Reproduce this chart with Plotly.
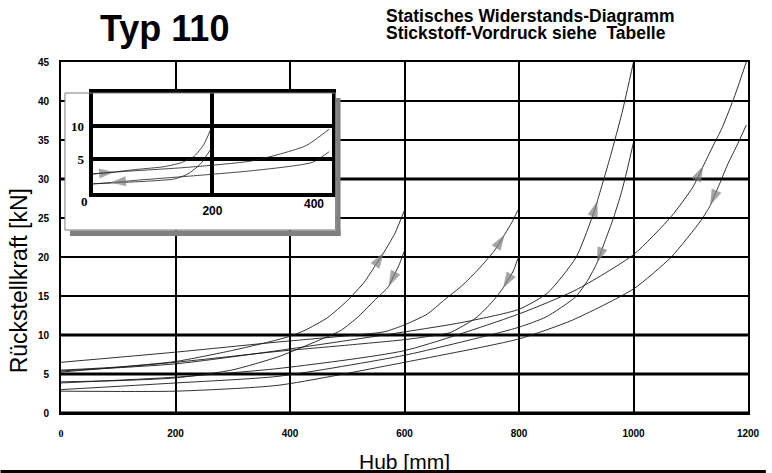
import plotly.graph_objects as go

# ---------------- data ----------------
# main diagram: Hub [mm] vs Rückstellkraft [kN]; "up" = compression, "down" = return stroke
hub_600_up = [0, 100, 200, 298, 379, 402, 426, 465, 500, 530, 548, 564, 583, 600]
kraft_600_up = [5.5, 5.9, 6.6, 8.0, 9.4, 9.9, 10.6, 12.2, 14.4, 16.8, 18.8, 20.6, 23.0, 26.0]
hub_600_down = [600, 590, 580, 572, 547, 520, 489, 440, 379, 298, 200, 100, 0]
kraft_600_down = [20.8, 18.9, 17.4, 16.2, 14.4, 12.4, 10.6, 9.0, 7.2, 5.5, 4.5, 4.15, 4.0]

hub_800_up = [0, 200, 379, 500, 564, 600, 640, 668, 700, 730, 758, 775, 788, 798]
kraft_800_up = [6.5, 7.8, 9.1, 9.9, 10.4, 11.3, 12.7, 14.4, 16.3, 18.5, 20.9, 22.9, 24.5, 26.0]
hub_800_down = [798, 790, 780, 772, 755, 725, 679, 640, 600, 500, 379, 200, 0]
kraft_800_down = [19.8, 18.2, 17.0, 16.0, 14.4, 12.2, 10.3, 9.8, 9.4, 8.7, 7.9, 6.5, 5.25]

hub_1000_up = [0, 200, 379, 600, 700, 800, 850, 900, 932, 937, 960, 980, 1000]
kraft_1000_up = [5.4, 6.3, 8.0, 10.4, 11.6, 13.3, 15.4, 20.0, 26.0, 27.2, 33.0, 38.5, 45.0]
hub_1000_down = [1000, 988, 979, 965, 950, 943, 936, 920, 899, 847, 800, 760, 600, 379, 200, 0]
kraft_1000_down = [34.7, 30.9, 28.3, 25.0, 22.0, 20.6, 19.2, 17.0, 14.9, 12.3, 11.0, 10.2, 7.4, 4.7, 3.85, 3.0]

hub_1200_up = [0, 200, 379, 600, 800, 900, 1000, 1066, 1104, 1122, 1138, 1155, 1177, 1197]
kraft_1200_up = [3.85, 4.6, 5.7, 8.0, 12.7, 15.8, 20.3, 25.2, 29.0, 31.7, 34.1, 36.6, 40.7, 45.0]
hub_1200_down = [1197, 1180, 1164, 1150, 1142, 1134, 1118, 1066, 1000, 893, 800, 600, 379, 200, 0]
kraft_1200_down = [36.9, 34.2, 31.8, 29.3, 28.0, 26.6, 24.7, 20.0, 15.9, 11.9, 9.5, 6.5, 3.55, 2.8, 2.8]

# index of the point that carries the direction arrow on each curve
arrow_index = {
    "600_up": 11, "600_down": 3, "800_up": 11, "800_down": 3,
    "1000_up": 9, "1000_down": 6, "1200_up": 9, "1200_down": 5,
}

# inset diagram (short strokes)
hub_200_up = [0, 20, 36, 76, 120, 148, 170, 186, 197]
kraft_200_up = [2.8, 2.95, 3.1, 3.5, 3.9, 4.5, 5.5, 7.3, 9.5]
hub_200_down = [197, 180, 159, 137, 90, 0]
kraft_200_down = [6.5, 4.3, 2.8, 2.05, 1.7, 1.3]
hub_400_up = [0, 49, 159, 268, 356, 395]
kraft_400_up = [2.8, 3.15, 3.8, 4.8, 7.05, 9.55]
hub_400_down = [395, 367, 268, 159, 80, 30, 0]
kraft_400_down = [6.15, 4.55, 3.3, 2.45, 1.9, 1.5, 1.3]
inset_arrow_index = {"200_up": 2, "400_down": 5}

x_ticks = [0, 200, 400, 600, 800, 1000, 1200]
y_ticks = [0, 5, 10, 15, 20, 25, 30, 35, 40, 45]
inset_x_ticks = [0, 200, 400]
inset_y_ticks = [0, 5, 10, 15]

# ---------------- geometry helpers ----------------
W, H = 772, 473
ML, MR, MT, MB = 61, 18, 62, 60
PW = W - ML - MR
PH = H - MT - MB


def px2x(px):
    return (px - ML) / PW


def py2y(py):
    return (H - MB - py) / PH


LINE_COL = "#1a1a1a"
ARROW_COL = "#808080"
SANS = "Liberation Sans, Arial, sans-serif"
SERIF = "Liberation Serif, Times New Roman, serif"

fig = go.Figure()

main_curves = [
    ("600_up", hub_600_up, kraft_600_up),
    ("600_down", hub_600_down, kraft_600_down),
    ("800_up", hub_800_up, kraft_800_up),
    ("800_down", hub_800_down, kraft_800_down),
    ("1000_up", hub_1000_up, kraft_1000_up),
    ("1000_down", hub_1000_down, kraft_1000_down),
    ("1200_up", hub_1200_up, kraft_1200_up),
    ("1200_down", hub_1200_down, kraft_1200_down),
]
for key, xs, ys in main_curves:
    sizes = [0] * len(xs)
    sizes[arrow_index[key]] = 17
    fig.add_trace(go.Scatter(
        x=xs, y=ys, mode="lines+markers", xaxis="x", yaxis="y",
        line=dict(color=LINE_COL, width=0.9, shape="spline", smoothing=0.6),
        marker=dict(symbol="arrow", size=sizes, color=ARROW_COL,
                    angleref="previous", line=dict(width=0)),
        hoverinfo="skip", showlegend=False,
    ))

# white cover subplot (the inset's card)
fig.add_trace(go.Scatter(x=[], y=[], xaxis="x2", yaxis="y2", mode="lines",
                         showlegend=False, hoverinfo="skip"))

inset_curves = [
    ("200_up", hub_200_up, kraft_200_up),
    ("200_down", hub_200_down, kraft_200_down),
    ("400_up", hub_400_up, kraft_400_up),
    ("400_down", hub_400_down, kraft_400_down),
]
for key, xs, ys in inset_curves:
    sizes = [0] * len(xs)
    if key in inset_arrow_index:
        sizes[inset_arrow_index[key]] = 16
    fig.add_trace(go.Scatter(
        x=xs, y=ys, mode="lines+markers", xaxis="x3", yaxis="y3",
        line=dict(color=LINE_COL, width=0.8, shape="spline", smoothing=0.6),
        marker=dict(symbol="arrow", size=sizes, color=ARROW_COL,
                    angleref="previous", line=dict(width=0)),
        hoverinfo="skip", showlegend=False,
    ))

tick_font = dict(family=SANS, size=10, color="black", weight="bold")
x_ticktext = ["<span style='font-family:Liberation Serif'>0</span>"] + [str(v) for v in x_ticks[1:]]

fig.update_layout(
    width=W, height=H,
    margin=dict(l=ML, r=MR, t=MT, b=MB),
    paper_bgcolor="white", plot_bgcolor="white",
    showlegend=False,
    xaxis=dict(domain=[0, 1], range=[0, 1200], tickvals=x_ticks, ticktext=x_ticktext,
               showgrid=True, gridcolor="black", gridwidth=2.4,
               showline=True, linecolor="black", linewidth=2, mirror=True,
               zeroline=False, ticks="", tickfont=tick_font, ticklabelstandoff=10,
               fixedrange=True),
    yaxis=dict(domain=[0, 1], range=[0, 45], tickvals=y_ticks,
               showgrid=True, gridcolor="black", gridwidth=2,
               showline=True, linecolor="black", linewidth=2, mirror=True,
               zeroline=False, ticks="", tickfont=tick_font, ticklabelstandoff=8,
               fixedrange=True),
    xaxis2=dict(domain=[px2x(65), px2x(338)], anchor="y2", range=[0, 1],
                showgrid=False, showline=False, zeroline=False, showticklabels=False,
                fixedrange=True),
    yaxis2=dict(domain=[py2y(230), py2y(93)], anchor="x2", range=[0, 1],
                showgrid=False, showline=False, zeroline=False, showticklabels=False,
                fixedrange=True),
    xaxis3=dict(domain=[px2x(93), px2x(334.5)], anchor="y3", range=[0, 400],
                tickvals=inset_x_ticks, ticktext=["", "200", ""],
                showgrid=True, gridcolor="black", gridwidth=4,
                showline=True, linecolor="black", linewidth=4, mirror=True,
                zeroline=False, ticks="", ticklabelstandoff=4,
                tickfont=dict(family=SANS, size=12, color="black", weight="bold"),
                fixedrange=True),
    yaxis3=dict(domain=[py2y(192.5), py2y(93)], anchor="x3", range=[0, 15],
                tickvals=inset_y_ticks, ticktext=["", "5", "10", ""],
                showgrid=True, gridcolor="black", gridwidth=4,
                showline=True, linecolor="black", linewidth=4, mirror=True,
                zeroline=False, ticks="", ticklabelstandoff=2,
                tickfont=dict(family=SERIF, size=13, color="black", weight="bold"),
                fixedrange=True),
)

# heavier grid lines of the main diagram
for yv in [0, 5, 10, 30]:
    fig.add_shape(type="line", xref="x", yref="y", x0=0, x1=1200, y0=yv, y1=yv,
                  line=dict(color="black", width=3.2), layer="below")

# inset card border and shadow
fig.add_shape(type="rect", xref="paper", yref="paper",
              x0=px2x(65), x1=px2x(338), y0=py2y(230), y1=py2y(93),
              line=dict(color="#7f7f7f", width=1), fillcolor="rgba(0,0,0,0)", layer="above")
fig.add_shape(type="rect", xref="paper", yref="paper",
              x0=px2x(338.5), x1=px2x(343), y0=py2y(236), y1=py2y(98),
              line=dict(width=0), fillcolor="#808080", layer="above")
fig.add_shape(type="rect", xref="paper", yref="paper",
              x0=px2x(70), x1=px2x(343), y0=py2y(236), y1=py2y(230.5),
              line=dict(width=0), fillcolor="#808080", layer="above")
# bottom rule
fig.add_shape(type="line", xref="paper", yref="paper",
              x0=px2x(0), x1=px2x(772), y0=py2y(471.5), y1=py2y(471.5),
              line=dict(color="black", width=3), layer="above")

ann = [
    dict(text="Typ 110", x=px2x(165.5), y=py2y(28), xanchor="center", yanchor="middle",
         font=dict(family=SANS, size=36, color="black", weight="bold")),
    dict(text="Statisches Widerstands-Diagramm", x=px2x(387), y=py2y(15.5),
         xanchor="left", yanchor="middle",
         font=dict(family=SANS, size=17.5, color="black", weight="bold")),
    dict(text="Stickstoff-Vordruck siehe\u00a0 Tabelle", x=px2x(387), y=py2y(32.5),
         xanchor="left", yanchor="middle",
         font=dict(family=SANS, size=17.5, color="black", weight="bold")),
    dict(text="Rückstellkraft [kN]", x=px2x(19), y=py2y(281), textangle=-90,
         xanchor="center", yanchor="middle",
         font=dict(family=SANS, size=23, color="black")),
    dict(text="Hub [mm]", x=px2x(408), y=py2y(461), xanchor="center", yanchor="middle",
         font=dict(family=SANS, size=21, color="black")),
    dict(text="0", x=px2x(84.3), y=py2y(201.7), xanchor="center", yanchor="middle",
         font=dict(family=SERIF, size=13, color="black", weight="bold")),
    dict(text="400", x=px2x(316.7), y=py2y(204.3), xanchor="center", yanchor="middle",
         font=dict(family=SANS, size=12, color="black", weight="bold")),
]
for a in ann:
    a.update(xref="paper", yref="paper", showarrow=False)
    fig.add_annotation(**a)

fig.write_html("out.html", config={"displayModeBar": False},
               post_script="document.body.style.margin='0px';")
